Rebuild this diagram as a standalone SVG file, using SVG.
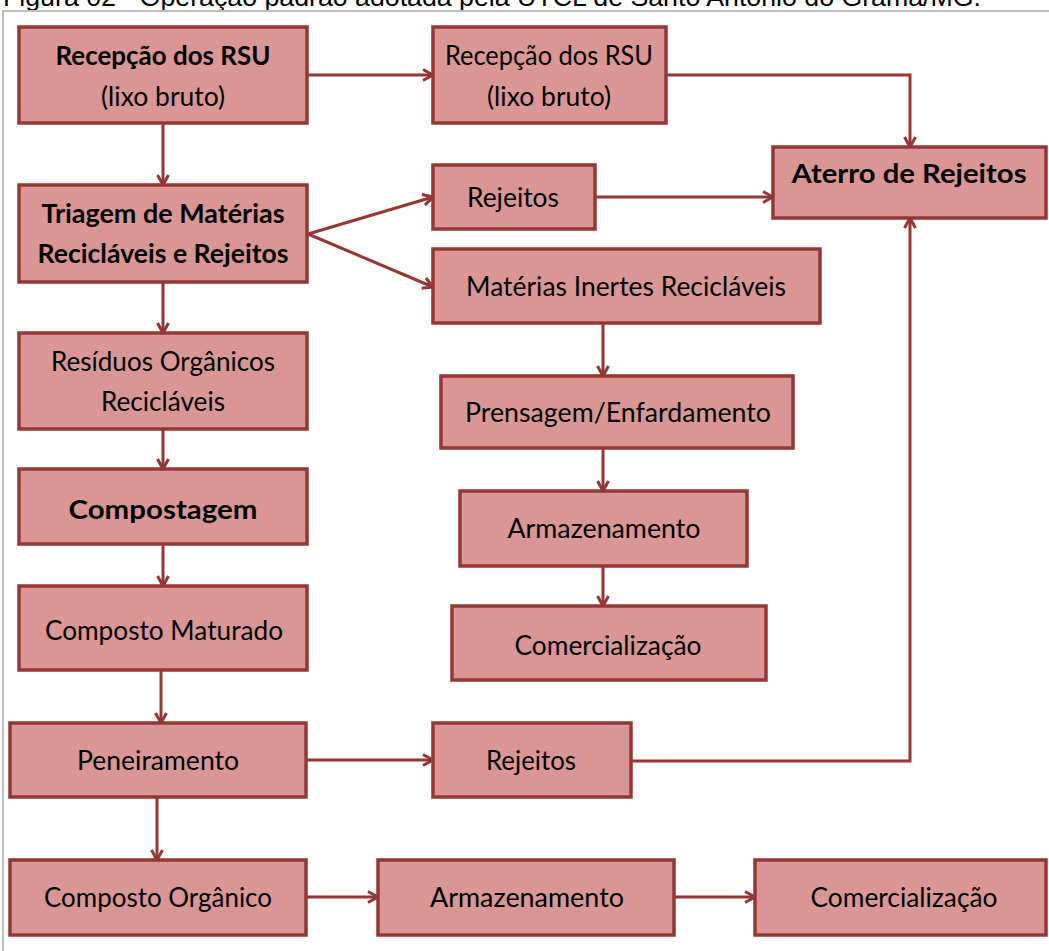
<svg xmlns="http://www.w3.org/2000/svg" width="1049" height="951" viewBox="0 0 1049 951">
<style>
.box{fill:#D99694;stroke:#953735;stroke-width:3.5}
.t{font-family:Lato,"Open Sans","Noto Sans",sans-serif;font-size:27px;fill:#000;text-anchor:middle}
.b{font-weight:bold}
.c{fill:none;stroke:#953735;stroke-width:3}
.frame{fill:none;stroke:#BFBFBF;stroke-width:2}
.cap{font-family:"Liberation Sans",Arial,sans-serif;font-size:26px;fill:#000}
</style>
<defs>
<marker id="arr" viewBox="0 0 14 14" refX="12" refY="7" markerWidth="14" markerHeight="14" markerUnits="userSpaceOnUse" orient="auto">
<path d="M2,1.5 L12,7 L2,12.5" fill="none" stroke="#953735" stroke-width="3"/>
</marker>
</defs>
<rect width="1049" height="951" fill="#fff"/>
<text class="cap" x="3" y="6" textLength="978" lengthAdjust="spacingAndGlyphs">Figura 02 - Operação padrão adotada pela UTCL de Santo Antônio do Grama/MG.</text>
<path class="frame" d="M3,951 V11 H1049"/>
<g id="connectors">
<path class="c" d="M307,75 H433" marker-end="url(#arr)"/>
<path class="c" d="M666,75 H910 V147" marker-end="url(#arr)"/>
<path class="c" d="M163,123 V185" marker-end="url(#arr)"/>
<path class="c" d="M308,234 L433,197" marker-end="url(#arr)"/>
<path class="c" d="M308,234 L433,287" marker-end="url(#arr)"/>
<path class="c" d="M595,197 H773" marker-end="url(#arr)"/>
<path class="c" d="M163,282 V333" marker-end="url(#arr)"/>
<path class="c" d="M603,323 V376" marker-end="url(#arr)"/>
<path class="c" d="M603,448 V491" marker-end="url(#arr)"/>
<path class="c" d="M603,566 V606" marker-end="url(#arr)"/>
<path class="c" d="M163,429 V469" marker-end="url(#arr)"/>
<path class="c" d="M163,544 V586" marker-end="url(#arr)"/>
<path class="c" d="M161,670 V723" marker-end="url(#arr)"/>
<path class="c" d="M306,760 H433" marker-end="url(#arr)"/>
<path class="c" d="M631,761 H910 V218" marker-end="url(#arr)"/>
<path class="c" d="M157,797 V860" marker-end="url(#arr)"/>
<path class="c" d="M306,897 H378" marker-end="url(#arr)"/>
<path class="c" d="M674,897 H755" marker-end="url(#arr)"/>
</g>
<g id="n1"><rect class="box" x="19" y="27" width="288" height="96"/>
<text class="t b" x="163" y="65" textLength="215" lengthAdjust="spacingAndGlyphs">Recepção dos RSU</text>
<text class="t" x="163" y="106" textLength="124" lengthAdjust="spacingAndGlyphs">(lixo bruto)</text></g>
<g id="n2"><rect class="box" x="433" y="27" width="233" height="96"/>
<text class="t" x="549" y="65" textLength="208" lengthAdjust="spacingAndGlyphs">Recepção dos RSU</text>
<text class="t" x="549" y="106" textLength="124" lengthAdjust="spacingAndGlyphs">(lixo bruto)</text></g>
<g id="n3"><rect class="box" x="773" y="147" width="273" height="71"/>
<text class="t b" x="909" y="183" font-size="30" textLength="235" lengthAdjust="spacingAndGlyphs">Aterro de Rejeitos</text></g>
<g id="n4"><rect class="box" x="19" y="185" width="288" height="97"/>
<text class="t b" x="163" y="223" textLength="243" lengthAdjust="spacingAndGlyphs">Triagem de Matérias</text>
<text class="t b" x="163" y="263" textLength="251" lengthAdjust="spacingAndGlyphs">Recicláveis e Rejeitos</text></g>
<g id="n5"><rect class="box" x="433" y="165" width="162" height="64"/>
<text class="t" x="513" y="207" textLength="92" lengthAdjust="spacingAndGlyphs">Rejeitos</text></g>
<g id="n6"><rect class="box" x="433" y="249" width="387" height="74"/>
<text class="t" x="626" y="296" textLength="320" lengthAdjust="spacingAndGlyphs">Matérias Inertes Recicláveis</text></g>
<g id="n7"><rect class="box" x="19" y="333" width="288" height="96"/>
<text class="t" x="163" y="371" textLength="224" lengthAdjust="spacingAndGlyphs">Resíduos Orgânicos</text>
<text class="t" x="163" y="411" textLength="124" lengthAdjust="spacingAndGlyphs">Recicláveis</text></g>
<g id="n8"><rect class="box" x="441" y="376" width="352" height="72"/>
<text class="t" x="618" y="422" textLength="306" lengthAdjust="spacingAndGlyphs">Prensagem/Enfardamento</text></g>
<g id="n9"><rect class="box" x="19" y="469" width="288" height="75"/>
<text class="t b" x="163" y="519" textLength="189" lengthAdjust="spacingAndGlyphs">Compostagem</text></g>
<g id="n10"><rect class="box" x="460" y="491" width="287" height="75"/>
<text class="t" x="604" y="538" textLength="193" lengthAdjust="spacingAndGlyphs">Armazenamento</text></g>
<g id="n11"><rect class="box" x="19" y="586" width="288" height="84"/>
<text class="t" x="164" y="640" textLength="238" lengthAdjust="spacingAndGlyphs">Composto Maturado</text></g>
<g id="n12"><rect class="box" x="452" y="606" width="314" height="74"/>
<text class="t" x="608" y="655" textLength="187" lengthAdjust="spacingAndGlyphs">Comercialização</text></g>
<g id="n13"><rect class="box" x="10" y="723" width="296" height="74"/>
<text class="t" x="158" y="770" textLength="162" lengthAdjust="spacingAndGlyphs">Peneiramento</text></g>
<g id="n14"><rect class="box" x="433" y="723" width="198" height="74"/>
<text class="t" x="531" y="770" textLength="90" lengthAdjust="spacingAndGlyphs">Rejeitos</text></g>
<g id="n15"><rect class="box" x="10" y="860" width="296" height="75"/>
<text class="t" x="158" y="907" textLength="228" lengthAdjust="spacingAndGlyphs">Composto Orgânico</text></g>
<g id="n16"><rect class="box" x="378" y="860" width="296" height="75"/>
<text class="t" x="527" y="907" textLength="194" lengthAdjust="spacingAndGlyphs">Armazenamento</text></g>
<g id="n17"><rect class="box" x="755" y="860" width="291" height="75"/>
<text class="t" x="904" y="907" textLength="187" lengthAdjust="spacingAndGlyphs">Comercialização</text></g>
</svg>
